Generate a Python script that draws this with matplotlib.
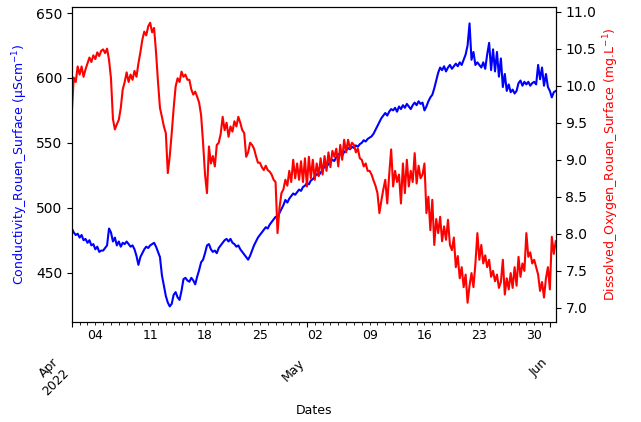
import matplotlib
matplotlib.use("Agg")
import matplotlib.pyplot as plt
import matplotlib.dates as mdates
from matplotlib.ticker import FuncFormatter, MultipleLocator
import pandas as pd

plt.rcParams.update({"font.family": "DejaVu Sans", "font.size": 10})

# 6-hourly readings, Apr 1 2022 00:00 -> Jun 1 2022 18:00 (4 values per day)
start = "2022-04-01 00:00"
n_per_day = 4

conductivity = [
    484, 481, 479, 480,  477, 479, 475, 476,  473, 475, 471, 472,  468, 470, 466, 467,   # Apr 1-4
    467, 469, 471, 484,  481, 474, 477, 471,  474, 470, 473, 472,  474, 472, 470, 471,   # Apr 5-8
    468, 463, 456, 462,  465, 468, 470, 469,  471, 472, 473, 470,  466, 462, 448, 440,   # Apr 9-12
    432, 427, 424, 426,  433, 435, 431, 429,  436, 445, 446, 444,  443, 446, 444, 441,   # Apr 13-16
    447, 452, 458, 460,  465, 471, 472, 468,  466, 467, 465, 469,  471, 473, 475, 476,   # Apr 17-20
    474, 476, 473, 472,  470, 471, 468, 466,  464, 462, 460, 463,  467, 471, 474, 477,   # Apr 21-24
    479, 481, 483, 485,  484, 487, 489, 491,  493, 492, 496, 499,  502, 506, 504, 507,   # Apr 25-28
    509, 511, 510, 512,  514, 513, 516, 517,  519, 518, 521, 522,  524, 526, 525, 527,   # Apr 29-May 2
    529, 532, 531, 534,  535, 537, 536, 539,  541, 542, 540, 543,  544, 546, 545, 547,   # May 3-6
    546, 548, 547, 549,  550, 552, 551, 553,  554, 555, 557, 560,  563, 566, 569, 571,   # May 7-10
    573, 571, 574, 576,  575, 577, 574, 578,  576, 579, 577, 580,  578, 576, 579, 581,   # May 11-14
    579, 582, 580, 581,  575, 578, 582, 585,  587, 592, 598, 604,  608, 606, 609, 605,   # May 15-18
    608, 610, 607, 609,  611, 609, 612, 610,  614, 618, 625, 642,  614, 620, 610, 612,   # May 19-22
    610, 608, 612, 607,  618, 627, 606, 622,  605, 620, 601, 615,  593, 603, 590, 595,   # May 23-26
    589, 591, 588, 590,  596, 598, 594, 597,  595, 597, 594, 596,  597, 595, 610, 599,   # May 27-30
    608, 594, 603, 593,  590, 585, 589, 590,                                             # May 31-Jun 1
]

dissolved_oxygen = [
    9.63, 10.11, 10.05, 10.26,  10.15, 10.26, 10.12, 10.22,  10.30, 10.38, 10.32, 10.41,  10.36, 10.45, 10.40, 10.47,
    10.49, 10.44, 10.50, 10.35,  10.10, 9.55, 9.41, 9.48,  9.54, 9.70, 9.95, 10.05,  10.18, 10.05, 10.15, 10.08,
    10.20, 10.12, 10.30, 10.45,  10.62, 10.73, 10.68, 10.80,  10.85, 10.72, 10.78, 10.45,  10.05, 9.70, 9.58, 9.45,
    9.36, 8.82, 9.05, 9.36,  9.70, 9.99, 10.10, 10.05,  10.19, 10.12, 10.15, 10.08,  10.08, 9.95, 9.88, 9.92,
    9.85, 9.77, 9.60, 9.23,  8.80, 8.55, 9.18, 8.95,  9.05, 8.91, 9.20, 9.23,  9.35, 9.58, 9.40, 9.50,
    9.31, 9.45, 9.38, 9.52,  9.45, 9.58, 9.50, 9.40,  9.36, 9.04, 9.10, 9.23,  9.20, 9.15, 9.05, 8.96,
    8.96, 8.90, 8.86, 8.92,  8.86, 8.84, 8.80, 8.73,  8.70, 8.01, 8.35, 8.55,  8.60, 8.73, 8.65, 8.85,
    8.70, 9.00, 8.75, 8.95,  8.73, 8.98, 8.70, 9.02,  8.64, 9.04, 8.75, 9.00,  8.73, 8.95, 8.78, 9.02,
    8.80, 9.05, 8.85, 9.10,  8.90, 9.12, 9.04, 9.15,  8.91, 9.20, 9.00, 9.27,  9.10, 9.27, 9.15, 9.23,
    9.20, 9.10, 9.15, 9.02,  9.00, 8.91, 8.95, 8.85,  8.85, 8.80, 8.72, 8.65,  8.55, 8.28, 8.45, 8.60,
    8.73, 8.41, 8.80, 9.14,  8.64, 8.85, 8.70, 8.80,  8.41, 8.95, 8.55, 9.00,  8.64, 8.85, 8.70, 9.09,
    8.68, 8.92, 8.75, 8.80,  8.95, 8.28, 8.50, 8.05,  8.46, 7.85, 8.20, 8.01,  8.23, 7.90, 8.10, 7.92,
    8.19, 7.85, 7.78, 7.95,  7.55, 7.70, 7.40, 7.55,  7.28, 7.45, 7.07, 7.30,  7.47, 7.28, 7.60, 8.01,
    7.65, 7.85, 7.60, 7.71,  7.55, 7.65, 7.42, 7.50,  7.36, 7.45, 7.27, 7.35,  7.65, 7.18, 7.40, 7.25,
    7.47, 7.27, 7.55, 7.30,  7.69, 7.42, 7.60, 7.50,  8.01, 7.69, 7.75, 7.60,  7.65, 7.55, 7.45, 7.23,
    7.35, 7.14, 7.40, 7.55,  7.25, 7.96, 7.73, 7.90,
]

dates = pd.date_range(start, periods=len(conductivity), freq=f"{24 // n_per_day}h")

left_ticks = [450, 500, 550, 600, 650]
right_ticks = [7.0, 7.5, 8.0, 8.5, 9.0, 9.5, 10.0, 10.5, 11.0]

fig, ax = plt.subplots(figsize=(6.41, 4.22), dpi=100)
fig.subplots_adjust(left=0.112, right=0.867, top=0.983, bottom=0.237)

ax.plot(dates, conductivity, color="blue", lw=1.5)
ax.set_ylabel("Conductivity_Rouen_Surface (µScm$^{-1}$)", color="blue", fontsize=9)
ax.set_yticks(left_ticks)
ax.set_ylim(412, 654.5)
ax.set_xlim(dates[0], dates[-1])

ax2 = ax.twinx()
ax2.plot(dates, dissolved_oxygen, color="red", lw=1.5)
ax2.set_ylabel("Dissolved_Oxygen_Rouen_Surface (mg.L$^{-1}$)", color="red", fontsize=9)
ax2.set_yticks(right_ticks)
ax2.yaxis.set_major_formatter(FuncFormatter(lambda v, p: f"{v:.1f}"))
ax2.set_ylim(6.81, 11.06)

# month ticks (rotated) + daily minor ticks labelled on Mondays
def month_fmt(v, pos):
    d = mdates.num2date(v)
    return d.strftime("%b\n%Y") if d.month == 4 else d.strftime("%b")

def day_fmt(v, pos):
    d = mdates.num2date(v)
    return d.strftime("%d") if d.weekday() == 0 else ""

ax.xaxis.set_major_locator(mdates.MonthLocator())
ax.xaxis.set_major_formatter(FuncFormatter(month_fmt))
ax.xaxis.set_minor_locator(mdates.DayLocator())
ax.xaxis.set_minor_formatter(FuncFormatter(day_fmt))
ax.tick_params(axis="x", which="major", length=3.5, pad=21, labelsize=9)
ax.tick_params(axis="x", which="minor", length=2, pad=3, labelsize=9)
for lab in ax.get_xticklabels(which="major"):
    lab.set_rotation(45)
    lab.set_ha("right")
ax.set_xlabel("Dates", fontsize=9)

fig.savefig("out.png", dpi=100, facecolor="white")
